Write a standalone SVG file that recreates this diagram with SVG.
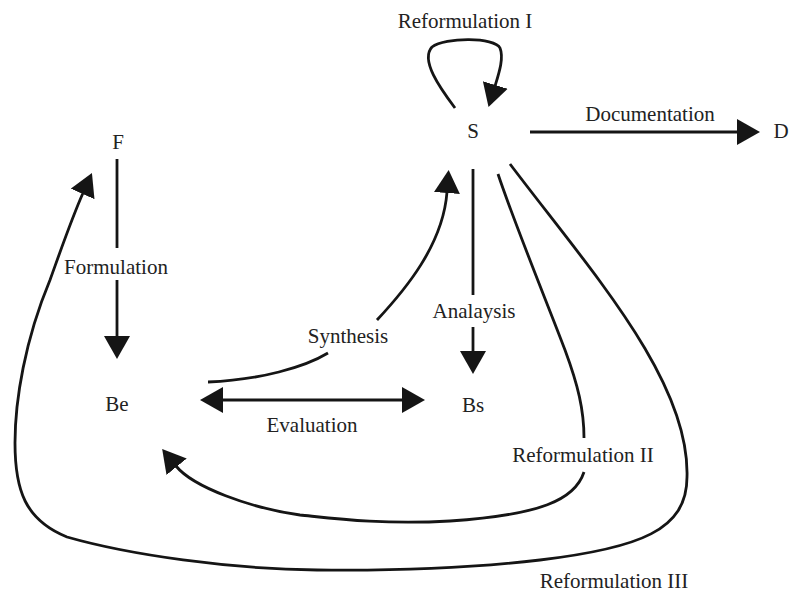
<svg xmlns="http://www.w3.org/2000/svg" width="790" height="594" viewBox="0 0 790 594">
<style>
.t{font-family:"Liberation Serif","Times New Roman",serif;font-size:21px;fill:#222;text-anchor:middle}
.c{fill:none;stroke:#151515;stroke-width:2.8}
</style>
<defs>
<marker id="ah" markerUnits="userSpaceOnUse" markerWidth="24" markerHeight="26" refX="1" refY="13" orient="auto-start-reverse" viewBox="0 0 24 26">
<path d="M0,0 L23,13 L0,26 z" fill="#151515"/>
</marker>
</defs>
<rect width="790" height="594" fill="#fff"/>
<g id="connectors">
<path id="e-reform1" class="c" d="M455,108 C440,88 420,60 432,47 C445,37 495,37 500,48 C504,58 499,73 495,86" marker-end="url(#ah)"/>
<path id="e-doc" class="c" d="M530,132 L738,132" marker-end="url(#ah)"/>
<path id="e-form-a" class="c" d="M117,159 L117,248"/>
<path id="e-form-b" class="c" d="M117,280 L117,337" marker-end="url(#ah)"/>
<path id="e-syn-a" class="c" d="M208,382 C260,380 305,367 328,353"/>
<path id="e-syn-b" class="c" d="M377,320 C405,290 443,245 447,192" marker-end="url(#ah)"/>
<path id="e-ana-a" class="c" d="M473,169 L473,295"/>
<path id="e-ana-b" class="c" d="M473,327 L473,352" marker-end="url(#ah)"/>
<path id="e-eval" class="c" d="M222,400 L403,400" marker-start="url(#ah)" marker-end="url(#ah)"/>
<path id="e-reform2-a" class="c" d="M498,174 C515,225 550,310 565,350 C578,385 584,410 584,438"/>
<path id="e-reform2-b" class="c" d="M584,472 C575,500 540,515 450,521 C380,525 330,518 300,515 C250,508 193,487 176,466" marker-end="url(#ah)"/>
<path id="e-reform3" class="c" d="M510,164 C590,270 690,380 687,477 C687,530 640,548 540,560 C480,567 400,571 317,570 C230,569 130,555 67,537 C25,520 15,490 15,443 C15,400 25,340 50,280 C58,258 71,220 83,193" marker-end="url(#ah)"/>
</g>
<g id="node-S"><text class="t" x="473" y="138">S</text></g>
<g id="node-D"><text class="t" x="781" y="138">D</text></g>
<g id="node-F"><text class="t" x="118" y="149">F</text></g>
<g id="node-Be"><text class="t" x="117" y="411">Be</text></g>
<g id="node-Bs"><text class="t" x="473" y="412">Bs</text></g>
<g id="labels">
<text class="t" x="465" y="28">Reformulation I</text>
<text class="t" x="650" y="121">Documentation</text>
<text class="t" x="116" y="274">Formulation</text>
<text class="t" x="348" y="343">Synthesis</text>
<text class="t" x="474" y="318">Analaysis</text>
<text class="t" x="312" y="432">Evaluation</text>
<text class="t" x="583" y="462">Reformulation II</text>
<text class="t" x="614" y="588">Reformulation III</text>
</g>
</svg>
